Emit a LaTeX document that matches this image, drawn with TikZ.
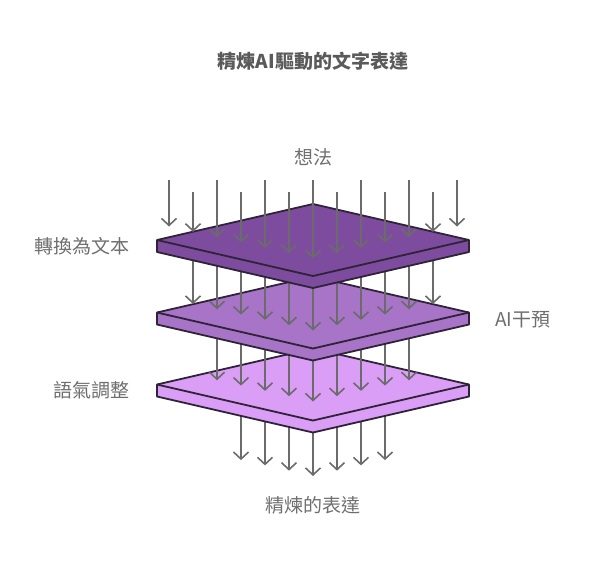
\documentclass[tikz,border=0pt]{standalone}
\usepackage{fontspec}
\newfontfamily\cjk{Noto Sans CJK TC}
\usetikzlibrary{arrows.meta}

\definecolor{edge}{HTML}{2E2337}
\definecolor{flowgray}{HTML}{6B6B6B}
\definecolor{textgray}{HTML}{6E6E6E}
\definecolor{headgray}{HTML}{5A5A5A}
\definecolor{dark}{HTML}{7D4C9E}
\definecolor{mid}{HTML}{A874C8}
\definecolor{light}{HTML}{DA9EF6}

\tikzset{
    slab/.style = {draw = edge, line width = 1.8pt, line join = round},
    flow/.style = {draw = flowgray, line width = 1.6pt, -{Straight Barb[length=7pt, width=15pt]}},
    tag/.style = {font = \cjk\fontsize{19}{19}\selectfont, text = textgray, inner sep = 0pt},
    head/.style = {font = \cjk\bfseries\fontsize{19}{19}\selectfont, text = headgray, inner sep = 0pt}
}

% one slab around a centre coordinate
\newcommand{\slab}[2]{
    \filldraw [slab, fill = #2] (#1) ++(-156,0) -- ++(0,12) -- ++(156,36) -- ++(156,-36)
        -- ++(0,-12) -- ++(-156,-36) -- cycle;
    \draw [slab] (#1) ++(-156,0) -- ++(156,36) -- ++(156,-36);
}

\begin{document}
\begin{tikzpicture}[x = 1pt, y = -1pt]
    \useasboundingbox (0,0) rectangle (590,566);

    \coordinate (s1) at (313,240);
    \coordinate (s2) at (313,312.5);
    \coordinate (s3) at (313,384.5);

    % out of the last slab
    \foreach \k in {-3,...,3} {
        \coordinate (o\k) at ({313+24*\k}, 394.5);
        \coordinate (e\k) at ({313+24*\k}, {476-5.3*abs(\k)});
        \draw [flow] (o\k) -- (e\k);
    }
    \slab{s3}{light}

    % onto the last slab
    \foreach \k in {-4,...,4} {
        \coordinate (c\k) at ({313+24*\k}, 322.5);
        \coordinate (d\k) at ({313+24*\k}, {401.5-5.3*abs(\k)});
        \draw [flow] (c\k) -- (d\k);
    }
    \slab{s2}{mid}

    % onto the middle slab
    \foreach \k in {-5,...,5} {
        \coordinate (a\k) at ({313+24*\k}, 250);
        \coordinate (b\k) at ({313+24*\k}, {330.5-5.3*abs(\k)});
        \draw [flow] (a\k) -- (b\k);
    }
    \slab{s1}{dark}

    % onto the first slab
    \foreach \k in {-6,...,6} {
        \coordinate (i\k) at ({313+24*\k}, {180+12*mod(abs(\k),2)});
        \coordinate (j\k) at ({313+24*\k}, {258.3-5.3*abs(\k)});
        \draw [flow] (i\k) -- (j\k);
    }

    \node [head] (title) at (313,61) {精煉AI驅動的文字表達};
    \node [tag] (idea) at (313,157) {想法};
    \node [tag, anchor = east] (convert) at (130,246) {轉換為文本};
    \node [tag, anchor = west] (ai) at (495,320) {AI干預};
    \node [tag, anchor = east] (tone) at (130,390) {語氣調整};
    \node [tag] (result) at (313,505) {精煉的表達};
\end{tikzpicture}
\end{document}
